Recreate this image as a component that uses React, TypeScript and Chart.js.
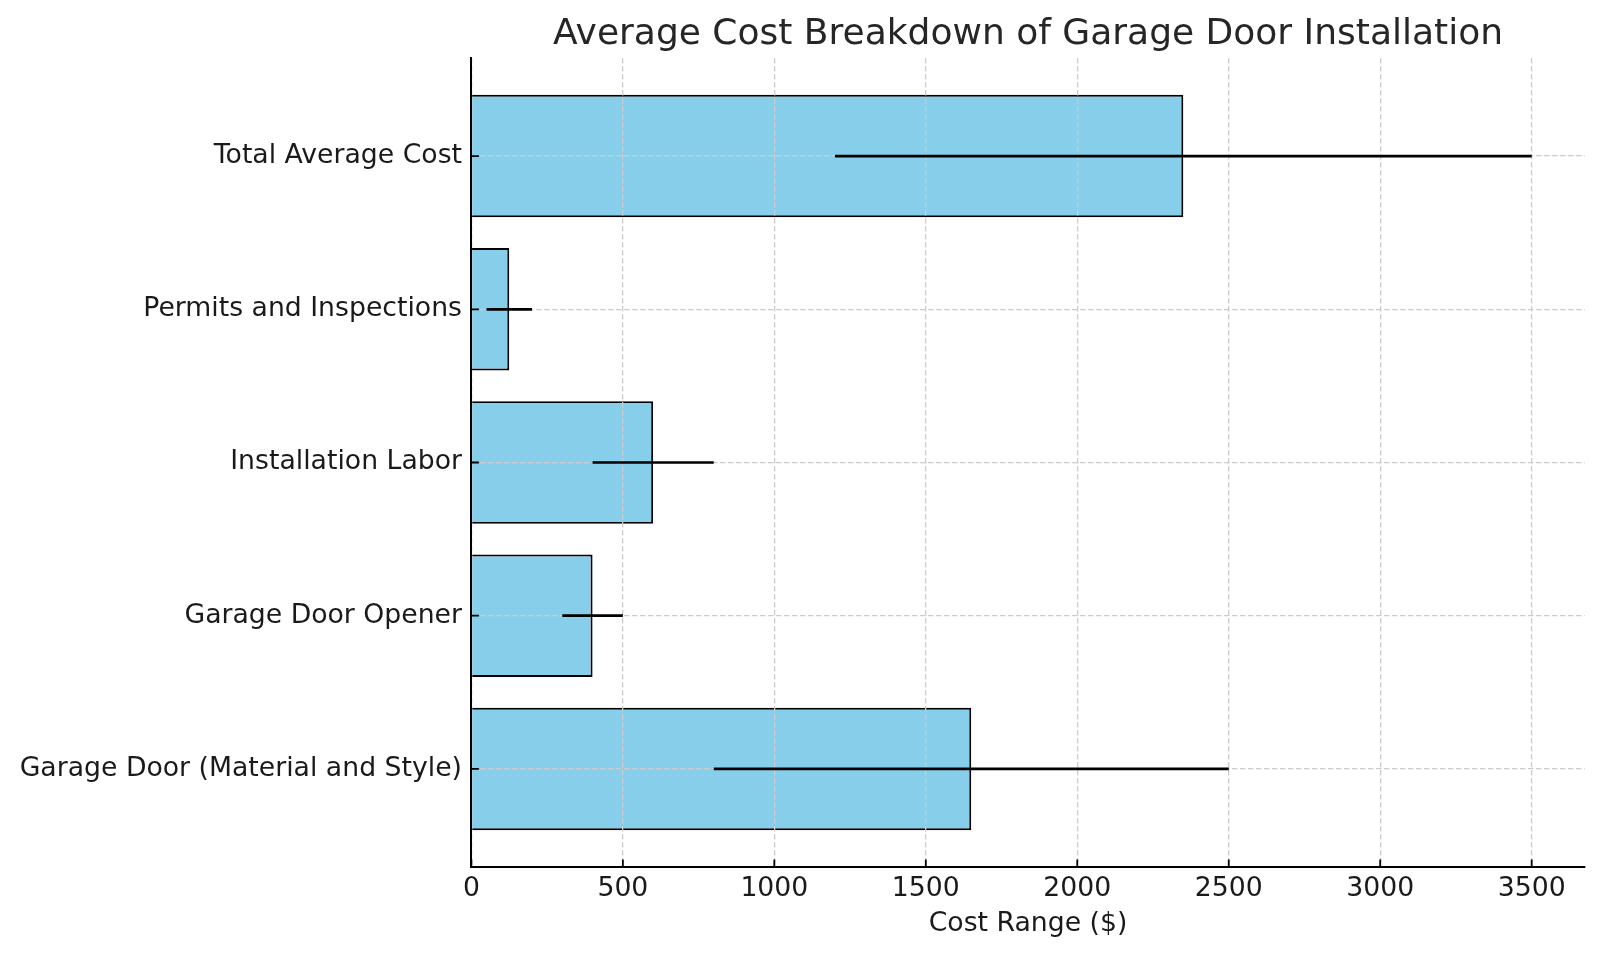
import React, { useEffect, useRef } from "react";
import { Chart, registerables } from "chart.js";

Chart.register(...registerables);

const categories = [
  "Garage Door (Material and Style)",
  "Garage Door Opener",
  "Installation Labor",
  "Permits and Inspections",
  "Total Average Cost",
];
const averageCost = [1650, 400, 600, 125, 2350];
const minCost = [800, 300, 400, 50, 1200];
const maxCost = [2500, 500, 800, 200, 3500];
const xTicks = [0, 500, 1000, 1500, 2000, 2500, 3000, 3500];
const yTicks = [0, 1, 2, 3, 4];

const FONT = "'DejaVu Sans', sans-serif";
const TEXT = "#1a1a1a";

const overlayPlugin = {
  id: "overlay",
  afterDraw(chart: any) {
    const { ctx, chartArea, scales } = chart;
    const xs = scales.x;
    const ys = scales.y;
    ctx.save();
    // inward tick marks
    ctx.strokeStyle = "#000";
    ctx.lineWidth = 1.8;
    ctx.beginPath();
    xTicks.forEach((v) => {
      const px = xs.getPixelForValue(v);
      ctx.moveTo(px, chartArea.bottom);
      ctx.lineTo(px, chartArea.bottom - 7.5);
    });
    yTicks.forEach((v) => {
      const py = ys.getPixelForValue(v);
      ctx.moveTo(chartArea.left, py);
      ctx.lineTo(chartArea.left + 7.5, py);
    });
    ctx.stroke();
    // error bars
    ctx.lineWidth = 2.7;
    ctx.strokeStyle = "#000";
    ctx.beginPath();
    categories.forEach((_, i) => {
      const py = ys.getPixelForValue(i);
      ctx.moveTo(xs.getPixelForValue(minCost[i]), py);
      ctx.lineTo(xs.getPixelForValue(maxCost[i]), py);
    });
    ctx.stroke();
    ctx.restore();
  },
};

export default function App() {
  const ref = useRef<HTMLCanvasElement | null>(null);

  useEffect(() => {
    const canvas = ref.current;
    if (!canvas) return;
    const chart = new Chart(canvas, {
      type: "bar",
      data: {
        datasets: [
          {
            data: averageCost.map((v, i) => ({ x: v, y: i })),
            backgroundColor: "#87CEEB",
            borderColor: "#000000",
            borderWidth: 2,
            categoryPercentage: 0.8,
            barPercentage: 1.0,
          },
        ],
      },
      options: {
        indexAxis: "y",
        animation: false,
        responsive: false,
        devicePixelRatio: 1,
        layout: { padding: { top: 0, right: 15.3, bottom: 0, left: 0 } },
        plugins: {
          legend: { display: false },
          tooltip: { enabled: false },
          title: {
            display: true,
            fullSize: false,
            text: "Average Cost Breakdown of Garage Door Installation",
            color: "#262626",
            font: { family: FONT, size: 36, weight: "normal" },
            padding: { top: 13, bottom: 1.8 },
          },
        },
        scales: {
          x: {
            type: "linear",
            min: 0,
            max: 3675,
            afterBuildTicks: (s: any) => {
              s.ticks = xTicks.map((v) => ({ value: v }));
            },
            afterFit: (s: any) => {
              s.height = 87;
            },
            ticks: {
              color: TEXT,
              font: { family: FONT, size: 26.7 },
              padding: 6,
              maxRotation: 0,
              autoSkip: false,
              callback: (v: any) => String(v),
            },
            grid: { color: "#cccccc", lineWidth: 1.3, drawTicks: false, z: 1 },
            border: { display: true, color: "#000", width: 2, dash: [5.5, 2.5], z: 2 },
            title: {
              display: true,
              text: "Cost Range ($)",
              color: TEXT,
              font: { family: FONT, size: 26.7 },
              padding: { top: 0, bottom: 14 },
            },
          },
          y: {
            type: "linear",
            min: -0.64,
            max: 4.64,
            offset: false,
            afterBuildTicks: (s: any) => {
              s.ticks = yTicks.map((v) => ({ value: v }));
            },
            afterFit: (s: any) => {
              s.width = 471.4;
            },
            ticks: {
              color: TEXT,
              font: { family: FONT, size: 26.7 },
              padding: 9.4,
              autoSkip: false,
              callback: (v: any) => categories[v] ?? "",
            },
            grid: { color: "#cccccc", lineWidth: 1.3, drawTicks: false, offset: false, z: 1 },
            border: { display: true, color: "#000", width: 2, dash: [5.5, 2.5], z: 2 },
          },
        },
      },
      plugins: [overlayPlugin],
    } as any);
    return () => chart.destroy();
  }, []);

  return (
    <div style={{ position: "absolute", left: 0, top: 0, width: 1600, height: 954, background: "#fff" }}>
      <canvas ref={ref} width={1600} height={954} style={{ width: 1600, height: 954, display: "block" }} />
    </div>
  );
}
